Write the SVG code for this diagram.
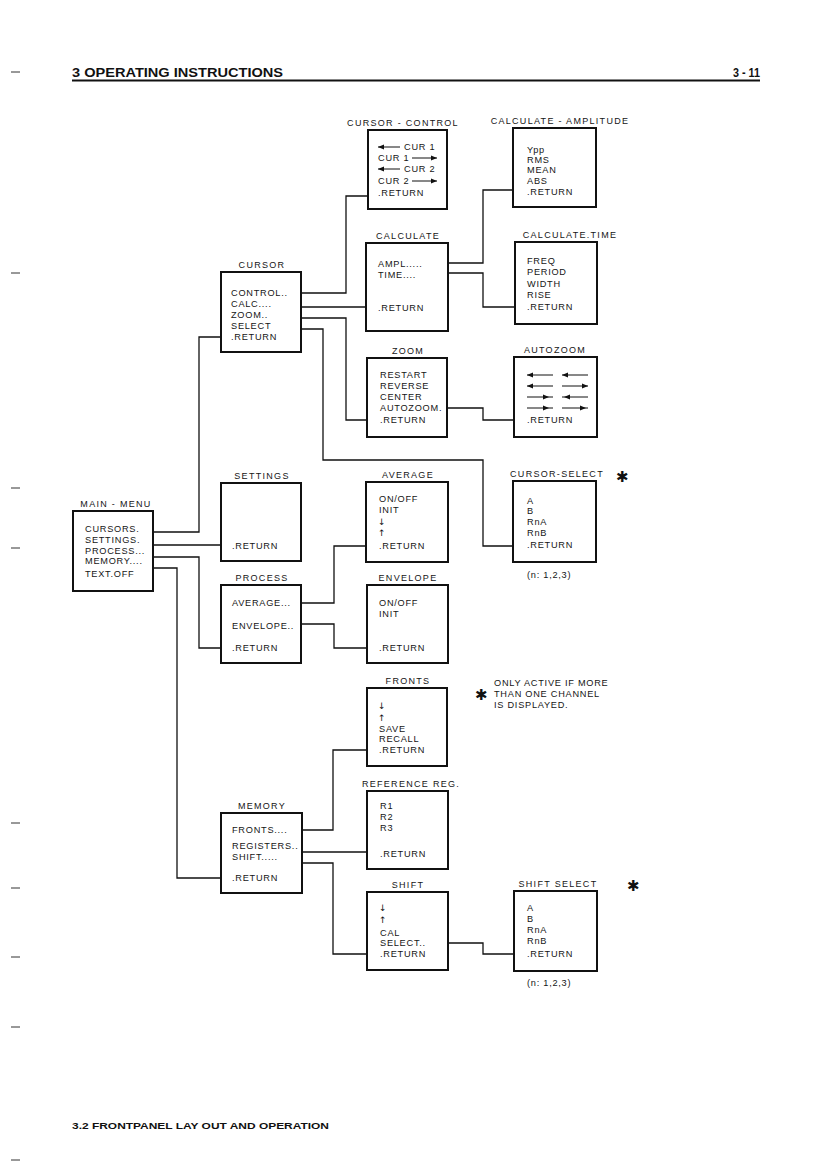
<svg xmlns="http://www.w3.org/2000/svg" width="826" height="1174" viewBox="0 0 826 1174">
<style>
.box{fill:#fff;stroke:#111;stroke-width:2}
.t{font-family:"Liberation Sans",Arial,sans-serif;font-size:9.2px;fill:#151515;letter-spacing:0.75px}
.ti{font-family:"Liberation Sans",Arial,sans-serif;font-size:9px;fill:#151515;letter-spacing:1.3px;text-anchor:middle}
.ar{font-family:"DejaVu Sans",sans-serif;font-size:9px;fill:#151515}
.ast{font-family:"DejaVu Sans",sans-serif;font-size:15px;font-weight:bold;fill:#111}
.c{fill:none;stroke:#111;stroke-width:1.3}
.l{stroke:#111;stroke-width:1}
.h{font-family:"Liberation Sans",Arial,sans-serif;font-weight:bold;fill:#111}
.tick{stroke:#333;stroke-width:1}
</style>
<rect width="826" height="1174" fill="#fff"/>
<g id="page">
<text class="h" x="72" y="77" font-size="12.5" textLength="211" lengthAdjust="spacingAndGlyphs">3 OPERATING INSTRUCTIONS</text>
<text class="h" x="733" y="77" font-size="12" textLength="27" lengthAdjust="spacingAndGlyphs">3 - 11</text>
<line x1="72" y1="80.5" x2="760" y2="80.5" stroke="#111" stroke-width="1.8"/>
<text class="h" x="72" y="1129" font-size="9.5" textLength="257" lengthAdjust="spacingAndGlyphs">3.2 FRONTPANEL LAY OUT AND OPERATION</text>
<line class="tick" x1="11" y1="72" x2="20" y2="72"/>
<line class="tick" x1="11" y1="273" x2="20" y2="273"/>
<line class="tick" x1="11" y1="488" x2="20" y2="488"/>
<line class="tick" x1="11" y1="548" x2="20" y2="548"/>
<line class="tick" x1="11" y1="823" x2="20" y2="823"/>
<line class="tick" x1="11" y1="888" x2="20" y2="888"/>
<line class="tick" x1="11" y1="957" x2="20" y2="957"/>
<line class="tick" x1="11" y1="1027" x2="20" y2="1027"/>
<line class="tick" x1="11" y1="1160" x2="20" y2="1160"/>
</g>
<g id="connectors">
<polyline class="c" points="301,293 346,293 346,196 368,196"/>
<polyline class="c" points="301,307 366,307"/>
<polyline class="c" points="448,263 483,263 483,190 513,190"/>
<polyline class="c" points="448,273 483,273 483,307 515,307"/>
<polyline class="c" points="301,318 346,318 346,420 367,420"/>
<polyline class="c" points="301,329 323,329 323,460 483,460 483,546 513,546"/>
<polyline class="c" points="447,408 483,408 483,420 514,420"/>
<polyline class="c" points="221,337 199,337 199,532 153,532"/>
<polyline class="c" points="153,545 221,545"/>
<polyline class="c" points="153,557 199,557 199,648 221,648"/>
<polyline class="c" points="153,568 177,568 177,878 221,878"/>
<polyline class="c" points="301,603 334,603 334,546 366,546"/>
<polyline class="c" points="301,624 334,624 334,648 367,648"/>
<polyline class="c" points="302,830 333,830 333,750 367,750"/>
<polyline class="c" points="302,852 367,852"/>
<polyline class="c" points="302,863 333,863 333,954 367,954"/>
<polyline class="c" points="448,943 483,943 483,954 514,954"/>
</g>
<g id="cursor-control">
<text class="ti" x="403" y="126">CURSOR - CONTROL</text>
<rect class="box" x="368" y="130" width="79" height="79"/>
<line class="l" x1="378" y1="147" x2="400" y2="147"/><polygon points="378,147 384,144.5 384,149.5" fill="#111"/>
<text class="t" x="404" y="150">CUR 1</text>
<text class="t" x="378" y="161">CUR 1</text>
<line class="l" x1="412" y1="158" x2="437" y2="158"/><polygon points="437,158 431,155.5 431,160.5" fill="#111"/>
<line class="l" x1="378" y1="169" x2="400" y2="169"/><polygon points="378,169 384,166.5 384,171.5" fill="#111"/>
<text class="t" x="404" y="172">CUR 2</text>
<text class="t" x="378" y="184">CUR 2</text>
<line class="l" x1="412" y1="181" x2="437" y2="181"/><polygon points="437,181 431,178.5 431,183.5" fill="#111"/>
<text class="t" x="378" y="196">.RETURN</text>
</g>
<g id="calculate-amplitude">
<text class="ti" x="560" y="124">CALCULATE - AMPLITUDE</text>
<rect class="box" x="513" y="128" width="83" height="79"/>
<text class="t" x="527" y="153">Ypp</text>
<text class="t" x="527" y="163">RMS</text>
<text class="t" x="527" y="173">MEAN</text>
<text class="t" x="527" y="184">ABS</text>
<text class="t" x="527" y="195">.RETURN</text>
</g>
<g id="calculate">
<text class="ti" x="408" y="239">CALCULATE</text>
<rect class="box" x="366" y="243" width="82" height="88"/>
<text class="t" x="378" y="267">AMPL.....</text>
<text class="t" x="378" y="278">TIME....</text>
<text class="t" x="378" y="311">.RETURN</text>
</g>
<g id="calculate-time">
<text class="ti" x="570" y="238">CALCULATE.TIME</text>
<rect class="box" x="515" y="242" width="82" height="82"/>
<text class="t" x="527" y="264">FREQ</text>
<text class="t" x="527" y="275">PERIOD</text>
<text class="t" x="527" y="287">WIDTH</text>
<text class="t" x="527" y="298">RISE</text>
<text class="t" x="527" y="310">.RETURN</text>
</g>
<g id="cursor">
<text class="ti" x="262" y="268">CURSOR</text>
<rect class="box" x="221" y="272" width="80" height="80"/>
<text class="t" x="231" y="296">CONTROL..</text>
<text class="t" x="231" y="307">CALC....</text>
<text class="t" x="231" y="318">ZOOM..</text>
<text class="t" x="231" y="329">SELECT</text>
<text class="t" x="231" y="340">.RETURN</text>
</g>
<g id="zoom">
<text class="ti" x="408" y="354">ZOOM</text>
<rect class="box" x="367" y="358" width="80" height="79"/>
<text class="t" x="380" y="378">RESTART</text>
<text class="t" x="380" y="389">REVERSE</text>
<text class="t" x="380" y="400">CENTER</text>
<text class="t" x="380" y="411">AUTOZOOM.</text>
<text class="t" x="380" y="423">.RETURN</text>
</g>
<g id="autozoom">
<text class="ti" x="555" y="353">AUTOZOOM</text>
<rect class="box" x="514" y="357" width="83" height="80"/>
<line class="l" x1="527" y1="375" x2="553" y2="375"/><polygon points="527,375 533,372.5 533,377.5" fill="#111"/>
<line class="l" x1="562" y1="375" x2="588" y2="375"/><polygon points="562,375 568,372.5 568,377.5" fill="#111"/>
<line class="l" x1="527" y1="386" x2="553" y2="386"/><polygon points="527,386 533,383.5 533,388.5" fill="#111"/>
<line class="l" x1="562" y1="386" x2="588" y2="386"/><polygon points="588,386 582,383.5 582,388.5" fill="#111"/>
<line class="l" x1="527" y1="397" x2="553" y2="397"/><polygon points="549,397 543,394.5 543,399.5" fill="#111"/>
<line class="l" x1="562" y1="397" x2="588" y2="397"/><polygon points="564,397 570,394.5 570,399.5" fill="#111"/>
<line class="l" x1="527" y1="408" x2="553" y2="408"/><polygon points="549,408 543,405.5 543,410.5" fill="#111"/>
<line class="l" x1="562" y1="408" x2="588" y2="408"/><polygon points="586,408 580,405.5 580,410.5" fill="#111"/>
<text class="t" x="527" y="423">.RETURN</text>
</g>
<g id="settings">
<text class="ti" x="262" y="479">SETTINGS</text>
<rect class="box" x="221" y="483" width="80" height="78"/>
<text class="t" x="232" y="549">.RETURN</text>
</g>
<g id="average">
<text class="ti" x="408" y="478">AVERAGE</text>
<rect class="box" x="366" y="482" width="82" height="80"/>
<text class="t" x="379" y="502">ON/OFF</text>
<text class="t" x="379" y="513">INIT</text>
<text class="ar" x="378" y="525">↓</text>
<text class="ar" x="378" y="536">↑</text>
<text class="t" x="379" y="549">.RETURN</text>
</g>
<g id="cursor-select">
<text class="ti" x="557" y="477">CURSOR-SELECT</text>
<text class="ast" x="616" y="482">✱</text>
<rect class="box" x="513" y="481" width="83" height="81"/>
<text class="t" x="527" y="504">A</text>
<text class="t" x="527" y="514">B</text>
<text class="t" x="527" y="525">RnA</text>
<text class="t" x="527" y="536">RnB</text>
<text class="t" x="527" y="548">.RETURN</text>
<text class="t" x="527" y="578">(n: 1,2,3)</text>
</g>
<g id="main-menu">
<text class="ti" x="116" y="507">MAIN - MENU</text>
<rect class="box" x="73" y="511" width="80" height="80"/>
<text class="t" x="85" y="532">CURSORS.</text>
<text class="t" x="85" y="543">SETTINGS.</text>
<text class="t" x="85" y="554">PROCESS...</text>
<text class="t" x="85" y="564">MEMORY....</text>
<text class="t" x="85" y="577">TEXT.OFF</text>
</g>
<g id="process">
<text class="ti" x="262" y="581">PROCESS</text>
<rect class="box" x="221" y="585" width="80" height="78"/>
<text class="t" x="232" y="606">AVERAGE...</text>
<text class="t" x="232" y="629">ENVELOPE..</text>
<text class="t" x="232" y="651">.RETURN</text>
</g>
<g id="envelope">
<text class="ti" x="408" y="581">ENVELOPE</text>
<rect class="box" x="367" y="585" width="81" height="78"/>
<text class="t" x="379" y="606">ON/OFF</text>
<text class="t" x="379" y="617">INIT</text>
<text class="t" x="379" y="651">.RETURN</text>
</g>
<g id="fronts">
<text class="ti" x="408" y="684">FRONTS</text>
<rect class="box" x="367" y="688" width="80" height="78"/>
<text class="ar" x="378" y="709">↓</text>
<text class="ar" x="378" y="721">↑</text>
<text class="t" x="379" y="732">SAVE</text>
<text class="t" x="379" y="742">RECALL</text>
<text class="t" x="379" y="753">.RETURN</text>
</g>
<g id="note">
<text class="ast" x="475" y="700">✱</text>
<text class="t" x="494" y="686">ONLY ACTIVE IF MORE</text>
<text class="t" x="494" y="697">THAN ONE CHANNEL</text>
<text class="t" x="494" y="708">IS DISPLAYED.</text>
</g>
<g id="reference-reg">
<text class="ti" x="411" y="787">REFERENCE  REG.</text>
<rect class="box" x="367" y="791" width="81" height="78"/>
<text class="t" x="380" y="809">R1</text>
<text class="t" x="380" y="820">R2</text>
<text class="t" x="380" y="831">R3</text>
<text class="t" x="380" y="857">.RETURN</text>
</g>
<g id="memory">
<text class="ti" x="262" y="809">MEMORY</text>
<rect class="box" x="221" y="813" width="81" height="80"/>
<text class="t" x="232" y="833">FRONTS....</text>
<text class="t" x="232" y="849">REGISTERS..</text>
<text class="t" x="232" y="860">SHIFT.....</text>
<text class="t" x="232" y="881">.RETURN</text>
</g>
<g id="shift">
<text class="ti" x="408" y="888">SHIFT</text>
<rect class="box" x="367" y="892" width="81" height="78"/>
<text class="ar" x="379" y="911">↓</text>
<text class="ar" x="379" y="923">↑</text>
<text class="t" x="380" y="936">CAL</text>
<text class="t" x="380" y="946">SELECT..</text>
<text class="t" x="380" y="957">.RETURN</text>
</g>
<g id="shift-select">
<text class="ti" x="558" y="887">SHIFT SELECT</text>
<text class="ast" x="627" y="891">✱</text>
<rect class="box" x="514" y="891" width="83" height="80"/>
<text class="t" x="527" y="911">A</text>
<text class="t" x="527" y="922">B</text>
<text class="t" x="527" y="933">RnA</text>
<text class="t" x="527" y="944">RnB</text>
<text class="t" x="527" y="957">.RETURN</text>
<text class="t" x="527" y="986">(n: 1,2,3)</text>
</g>
</svg>
